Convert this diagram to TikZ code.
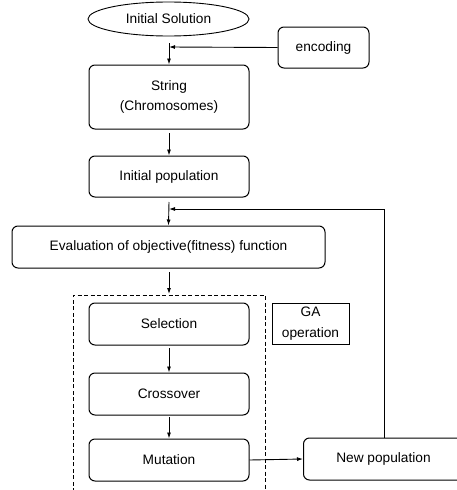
\documentclass[tikz,border=0pt]{standalone}
\usepackage{fontspec}
\setmainfont{Liberation Sans}
\usetikzlibrary{shapes.geometric,arrows.meta}
\begin{document}
\begin{tikzpicture}[x=1pt,y=-1pt,
  every node/.style={font=\fontsize{13.7}{15.5}\selectfont},
  rbox/.style={draw,line width=1pt,rounded corners=6pt,minimum width=160pt,align=center,inner sep=0pt},
  conn/.style={line width=0.9pt,-{Latex[length=6pt,width=4pt]}},
  plain/.style={line width=0.9pt}]
\useasboundingbox (0,0) rectangle (457,490);
\node[draw,ellipse,line width=0.9pt,minimum width=161pt,minimum height=34pt,inner sep=0pt] (sol) at (168.5,19) {Initial Solution};
\node[rbox,minimum width=91pt,minimum height=41pt] (enc) at (323.5,47.5) {encoding};
\node[rbox,minimum height=64pt] (str) at (169,97) {String\\[4pt](Chromosomes)};
\node[rbox,minimum height=41pt] (ipop) at (169,176.5) {Initial population};
\node[rbox,minimum width=313pt,minimum height=42pt] (eval) at (168.5,247) {Evaluation of objective(fitness) function};
\node[rbox,minimum height=42pt] (sel) at (169,324) {Selection};
\node[rbox,minimum height=42pt] (cro) at (169,394) {Crossover};
\node[rbox,minimum height=42pt] (mut) at (169,460) {Mutation};
\node[draw,line width=0.9pt,minimum width=77pt,minimum height=41pt,align=center,inner sep=0pt] (ga) at (310.5,323.5) {GA\\[6pt]operation};
\node[rbox,minimum width=160pt,minimum height=42pt,anchor=west] (npop) at (303,459) {New population};
% dashed frame
\coordinate (d1) at (73,492);
\coordinate (d2) at (73,295);
\coordinate (d3) at (265,295);
\coordinate (d4) at (265,492);
\draw[line width=0.8pt,dash pattern=on 4pt off 2.5pt] (d1) -- (d2) -- (d3) -- (d4);
% connectors
\coordinate (a1) at (169,43);
\coordinate (j1) at (169,47);
\draw[conn] (a1) -- (str.north);
\draw[conn] (enc.west) -- (j1);
\coordinate (a2) at (169,133);
\draw[conn] (a2) -- (ipop.north);
\coordinate (a3) at (169,202);
\draw[conn] (a3) -- (eval.north);
\coordinate (a4) at (169,272);
\coordinate (a4e) at (169,294);
\draw[conn] (a4) -- (a4e);
\coordinate (a5) at (169,348);
\draw[conn] (a5) -- (cro.north);
\coordinate (a6) at (169,417);
\draw[conn] (a6) -- (mut.north);
\draw[conn] (mut.east) -- (npop.west);
\coordinate (f1) at (384,209);
\coordinate (f2) at (169,209);
\draw[conn] (npop.north -| f1) -- (f1) -- (f2);
\end{tikzpicture}
\end{document}
